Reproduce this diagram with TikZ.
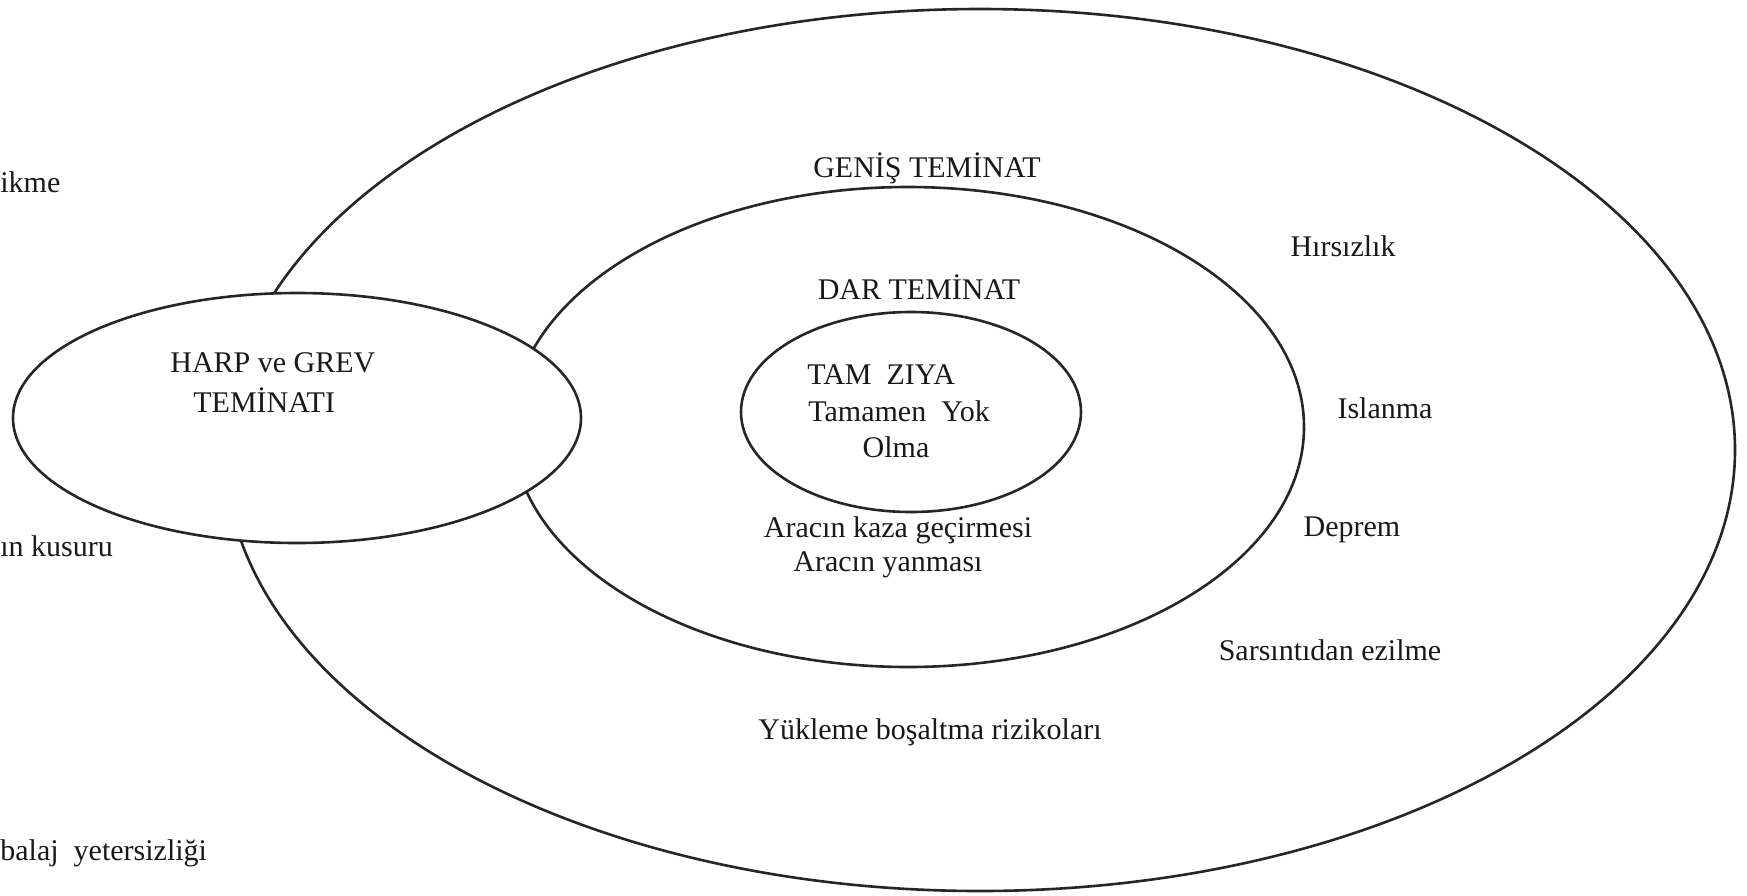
\documentclass[tikz,border=0pt]{standalone}
\usepackage{fontspec}
\setmainfont{Liberation Serif}
\usetikzlibrary{shapes.geometric}
\tikzset{
  ring/.style={draw=black!85, line width=1.3pt, ellipse, inner sep=0pt},
  lbl/.style={inner sep=0pt, font=\fontsize{15}{18}\selectfont, text=black!90},
}
\begin{document}
\begin{tikzpicture}[x=0.5pt,y=-0.5pt]
\useasboundingbox[fill=white] (0,0) rectangle (1747,895);
% ellipses
\node[ring, minimum width=755pt, minimum height=441pt] (outer) at (980,450) {};
\node[ring, minimum width=396pt, minimum height=240pt] (middle) at (908,427) {};
\node[ring, fill=white, minimum width=284pt, minimum height=125pt] (harp) at (297,418) {};
\node[ring, minimum width=170pt, minimum height=100pt] (inner) at (911,412) {};
% left cut-off texts
\node[lbl, anchor=west] (t1) at (0,182) {ikme};
\node[lbl, anchor=west] (t2) at (0,546) {ın kusuru};
\node[lbl, anchor=west] (t3) at (0,853) {balaj\ \ yetersizliği};
% harp
\node[lbl, anchor=west] (h1) at (170,363) {HARP ve GREV};
\node[lbl, anchor=west] (h2) at (193,400) {TEMİNATI};
% headings
\node[lbl] (genis) at (927,168) {GENİŞ TEMİNAT};
\node[lbl] (dar) at (919,287) {DAR TEMİNAT};
% inner
\node[lbl, anchor=west] (i1) at (807,375) {TAM\ \ ZIYA};
\node[lbl, anchor=west] (i2) at (808,411) {Tamamen\ \ Yok};
\node[lbl] (i3) at (896,447) {Olma};
% middle ring
\node[lbl] (m1) at (898,530) {Aracın kaza geçirmesi};
\node[lbl] (m2) at (888,565) {Aracın yanması};
% outer ring
\node[lbl] (o1) at (1343,246) {Hırsızlık};
\node[lbl] (o2) at (1385,408) {Islanma};
\node[lbl] (o3) at (1352,530) {Deprem};
\node[lbl] (o4) at (1330,650) {Sarsıntıdan ezilme};
\node[lbl] (o5) at (930,732) {Yükleme boşaltma rizikoları};
\end{tikzpicture}
\end{document}
